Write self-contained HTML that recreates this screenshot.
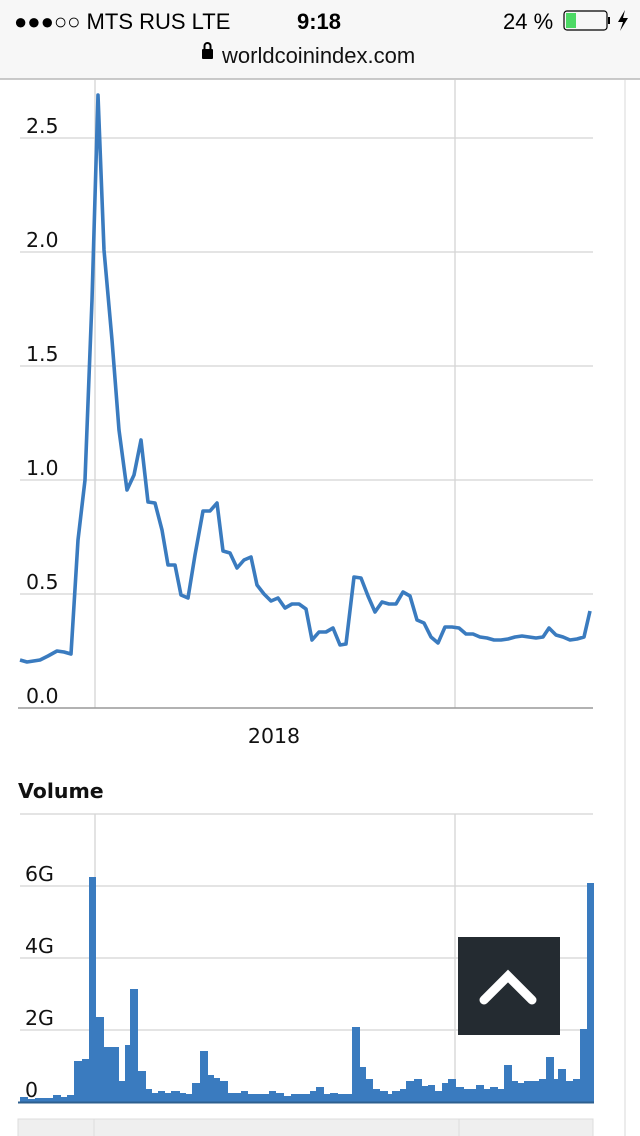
<!DOCTYPE html>
<html><head><meta charset="utf-8"><style>
html,body{margin:0;padding:0;width:640px;height:1136px;overflow:hidden;background:#fff}
svg{display:block}
</style></head><body>
<svg width="640" height="1136" viewBox="0 0 640 1136" xmlns="http://www.w3.org/2000/svg">
<rect x="0" y="0" width="640" height="79" fill="#f7f7f7"/>
<line x1="0" y1="79" x2="640" y2="79" stroke="#b8b8b8" stroke-width="1.5"/>
<text x="14" y="29" font-family="Liberation Sans, sans-serif" font-size="22" fill="#000">●●●○○ MTS RUS   LTE</text>
<text x="297" y="29" font-family="Liberation Sans, sans-serif" font-size="22" font-weight="bold" fill="#000">9:18</text>
<text x="503" y="29" font-family="Liberation Sans, sans-serif" font-size="22" fill="#000">24 %</text>
<rect x="564" y="11" width="43" height="19" rx="3" fill="none" stroke="#000" stroke-width="1.2"/>
<rect x="566" y="13" width="10" height="15" fill="#4cd964"/>
<rect x="608" y="17" width="2" height="7" fill="#000"/>
<path d="M625 10 L618 22 L623 22 L620 31 L628 18 L623 18 Z" fill="#000"/>
<rect x="202" y="49" width="11" height="10" rx="1" fill="#000"/>
<path d="M204.5 50 V46 a3 3 0 0 1 6 0 V50" fill="none" stroke="#000" stroke-width="2"/>
<text x="222" y="63" font-family="Liberation Sans, sans-serif" font-size="22" fill="#111">worldcoinindex.com</text>
<line x1="625" y1="80" x2="625" y2="1136" stroke="#d8d8d8" stroke-width="1"/>

<g stroke="#d4d4d4" stroke-width="1.3">
<line x1="20" y1="138" x2="593" y2="138"/><line x1="20" y1="252" x2="593" y2="252"/>
<line x1="20" y1="366" x2="593" y2="366"/><line x1="20" y1="480" x2="593" y2="480"/>
<line x1="20" y1="594" x2="593" y2="594"/>
<line x1="95" y1="80" x2="95" y2="708"/><line x1="455" y1="80" x2="455" y2="708"/>
</g>
<line x1="18" y1="708" x2="593" y2="708" stroke="#999" stroke-width="1.5"/>
<g font-family="DejaVu Sans, sans-serif" font-size="20.5" fill="#111">
<text x="26" y="133">2.5</text><text x="26" y="247">2.0</text><text x="26" y="361">1.5</text>
<text x="26" y="475">1.0</text><text x="26" y="589">0.5</text><text x="26" y="703">0.0</text>
<text x="274" y="743" text-anchor="middle">2018</text>
<text x="18" y="798" font-weight="bold">Volume</text>
</g>
<polyline fill="none" stroke="#3a7bbf" stroke-width="3.6" stroke-linejoin="round" points="20,660 27,662 40,660 48,656 57,651 64,652 71,654 78,540 85,480 92,300 98,95 104,250 112,340 119,430 127,490 134,475 141,440 148,502 155,503 162,530 168,565 175,565 181,595 188,598 195,555 203,511 210,511 217,503 223,551 230,553 237,568 244,560 251,557 257,585 264,594 271,601 278,598 285,608 292,604 299,604 306,609 312,640 319,632 326,632 333,628 340,645 346,644 354,577 361,578 368,596 375,612 382,602 389,604 396,604 403,592 410,596 417,620 424,623 431,637 438,643 445,627 452,627 459,628 466,634 473,634 480,637 487,638 494,640 501,640 508,639 515,637 522,636 529,637 536,638 543,637 549,628 556,635 563,637 570,640 577,639 584,637 590,611"/>

<g stroke="#d4d4d4" stroke-width="1.3">
<line x1="20" y1="814" x2="593" y2="814"/><line x1="20" y1="886" x2="593" y2="886"/>
<line x1="20" y1="958" x2="593" y2="958"/><line x1="20" y1="1030" x2="593" y2="1030"/>
<line x1="95" y1="814" x2="95" y2="1102"/><line x1="455" y1="814" x2="455" y2="1102"/>
</g>
<g font-family="DejaVu Sans, sans-serif" font-size="20.5" fill="#111">
<text x="25" y="881">6G</text><text x="25" y="953">4G</text><text x="25" y="1025">2G</text><text x="25" y="1097">0</text>
</g>
<g fill="#3a7bbf">
<rect x="20" y="1097" width="8" height="6"/><rect x="28" y="1099" width="7" height="4"/><rect x="35" y="1098" width="18" height="5"/>
<rect x="53" y="1095" width="8" height="8"/><rect x="61" y="1097" width="6" height="6"/><rect x="67" y="1095" width="7" height="8"/>
<rect x="74" y="1061" width="8" height="42"/><rect x="82" y="1059" width="7" height="44"/><rect x="89" y="877" width="7" height="226"/>
<rect x="96" y="1017" width="8" height="86"/><rect x="104" y="1047" width="15" height="56"/><rect x="119" y="1081" width="6" height="22"/>
<rect x="125" y="1045" width="5" height="58"/><rect x="130" y="989" width="8" height="114"/><rect x="138" y="1071" width="8" height="32"/>
<rect x="146" y="1089" width="6" height="14"/><rect x="152" y="1093" width="6" height="10"/><rect x="158" y="1091" width="7" height="12"/>
<rect x="165" y="1093" width="6" height="10"/><rect x="171" y="1091" width="9" height="12"/><rect x="180" y="1093" width="6" height="10"/>
<rect x="186" y="1094" width="6" height="9"/><rect x="192" y="1083" width="8" height="20"/><rect x="200" y="1051" width="8" height="52"/>
<rect x="208" y="1075" width="6" height="28"/><rect x="214" y="1078" width="6" height="25"/><rect x="220" y="1081" width="8" height="22"/>
<rect x="228" y="1093" width="13" height="10"/><rect x="241" y="1091" width="7" height="12"/><rect x="248" y="1094" width="21" height="9"/>
<rect x="269" y="1091" width="7" height="12"/><rect x="276" y="1093" width="8" height="10"/><rect x="284" y="1096" width="7" height="7"/>
<rect x="291" y="1094" width="19" height="9"/><rect x="310" y="1091" width="6" height="12"/><rect x="316" y="1087" width="8" height="16"/>
<rect x="324" y="1094" width="6" height="9"/><rect x="330" y="1093" width="8" height="10"/><rect x="338" y="1094" width="14" height="9"/>
<rect x="352" y="1027" width="8" height="76"/><rect x="360" y="1067" width="6" height="36"/><rect x="366" y="1079" width="7" height="24"/>
<rect x="373" y="1089" width="7" height="14"/><rect x="380" y="1091" width="8" height="12"/><rect x="388" y="1094" width="4" height="9"/>
<rect x="392" y="1091" width="8" height="12"/><rect x="400" y="1089" width="6" height="14"/><rect x="406" y="1081" width="8" height="22"/>
<rect x="414" y="1079" width="8" height="24"/><rect x="422" y="1086" width="6" height="17"/><rect x="428" y="1085" width="7" height="18"/>
<rect x="435" y="1091" width="7" height="12"/><rect x="442" y="1083" width="6" height="20"/><rect x="448" y="1079" width="8" height="24"/>
<rect x="456" y="1087" width="8" height="16"/><rect x="464" y="1089" width="12" height="14"/><rect x="476" y="1085" width="8" height="18"/>
<rect x="484" y="1089" width="6" height="14"/><rect x="490" y="1087" width="8" height="16"/><rect x="498" y="1089" width="6" height="14"/>
<rect x="504" y="1065" width="8" height="38"/><rect x="512" y="1081" width="6" height="22"/><rect x="518" y="1083" width="6" height="20"/>
<rect x="524" y="1081" width="15" height="22"/><rect x="539" y="1079" width="7" height="24"/><rect x="546" y="1057" width="8" height="46"/>
<rect x="554" y="1079" width="4" height="24"/><rect x="558" y="1069" width="8" height="34"/><rect x="566" y="1081" width="7" height="22"/>
<rect x="573" y="1079" width="7" height="24"/><rect x="580" y="1029" width="7" height="74"/><rect x="587" y="883" width="7" height="220"/>
</g>
<line x1="18" y1="1102.5" x2="594" y2="1102.5" stroke="#2d5f8f" stroke-width="2"/>
<rect x="458" y="937" width="102" height="98" fill="#242b31"/>
<path d="M484 1000 L508 976 L532 1000" fill="none" stroke="#fff" stroke-width="9" stroke-linecap="round" stroke-linejoin="miter"/>
<rect x="18" y="1119" width="575" height="20" fill="#efefef" stroke="#dcdcdc" stroke-width="1"/>
<line x1="94" y1="1119" x2="94" y2="1136" stroke="#dcdcdc"/>
<line x1="459" y1="1119" x2="459" y2="1136" stroke="#dcdcdc"/>
</svg>
</body></html>
